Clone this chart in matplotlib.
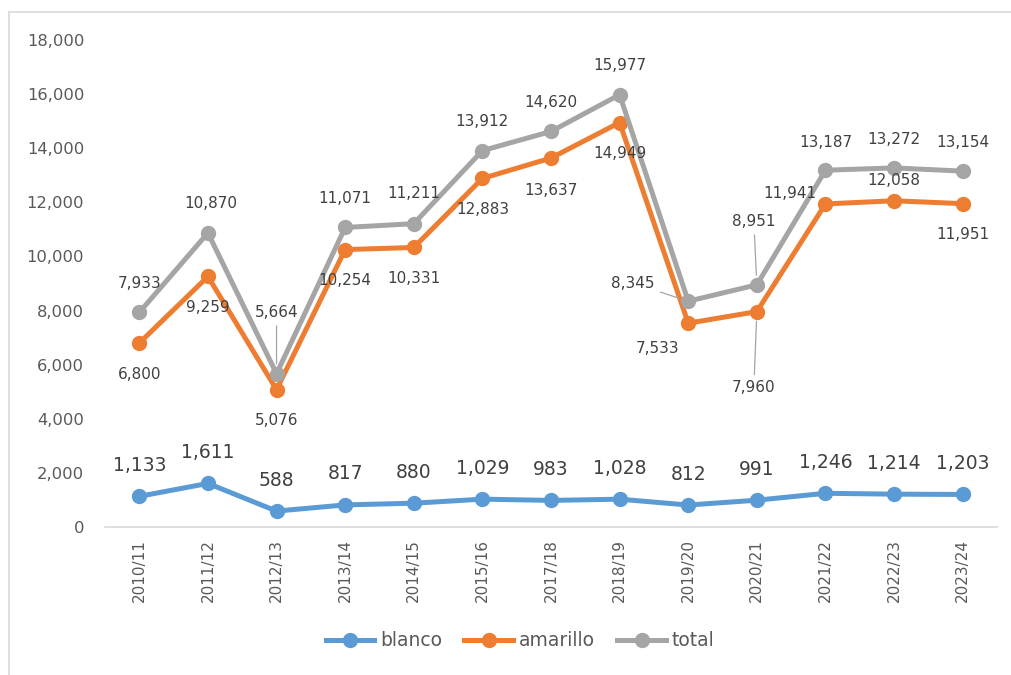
import matplotlib.pyplot as plt
from matplotlib.lines import Line2D

# data
seasons = ['2010/11', '2011/12', '2012/13', '2013/14', '2014/15', '2015/16', '2017/18',
           '2018/19', '2019/20', '2020/21', '2021/22', '2022/23', '2023/24']
blanco = [1133, 1611, 588, 817, 880, 1029, 983, 1028, 812, 991, 1246, 1214, 1203]
amarillo = [6800, 9259, 5076, 10254, 10331, 12883, 13637, 14949, 7533, 7960, 11941, 12058, 11951]
total = [7933, 10870, 5664, 11071, 11211, 13912, 14620, 15977, 8345, 8951, 13187, 13272, 13154]

c_blanco = '#5B9BD5'
c_amar = '#ED7D31'
c_total = '#A5A5A5'
txt = '#404040'

# label offsets in pixels (dx, dy up), leader line flag
off_total = [(0, 29), (3, 29), (0, 61), (0, 29), (0, 30), (0, 29), (0, 29),
             (0, 29), (-55, 18), (-3, 63), (0, 28), (0, 28), (0, 29)]
lead_total = [False, False, True, False, False, False, False,
              False, True, True, False, False, False]
off_amar = [(0, -31), (0, -31), (0, -31), (0, -31), (0, -31), (0, -31), (0, -32),
            (0, -31), (-31, -25), (-3, -76), (-36, 10), (0, 20), (0, -31)]
lead_amar = [False] * 9 + [True] + [False] * 3

fig = plt.figure(figsize=(10.12, 6.75), dpi=100)
# chart border (only left and top edges are inside the picture)
bx, by = 8.5 / 1012, 1 - 11.5 / 675
fig.add_artist(Line2D([bx, bx], [0, by], transform=fig.transFigure, color='#D9D9D9', lw=1.2))
fig.add_artist(Line2D([bx, 1], [by, by], transform=fig.transFigure, color='#D9D9D9', lw=1.2))
ax = fig.add_axes([105 / 1012, 1 - 527 / 675, 892 / 1012, 487 / 675])

x = range(len(seasons))
lw, ms = 3.6, 10
ax.plot(x, blanco, '-o', color=c_blanco, lw=lw, ms=ms, label='blanco', zorder=3)
ax.plot(x, amarillo, '-o', color=c_amar, lw=lw, ms=ms, label='amarillo', zorder=3)
ax.plot(x, total, '-o', color=c_total, lw=lw, ms=ms, label='total', zorder=3)

px = 0.72


def labels(vals, offs, leads, size):
    for i, v in enumerate(vals):
        dx, dy = offs[i]
        ap = None
        if leads[i]:
            ap = dict(arrowstyle='-', color=c_total, lw=0.9, shrinkA=2, shrinkB=7)
        ax.annotate(f'{v:,}', (i, v), xytext=(dx * px, dy * px), textcoords='offset points',
                    ha='center', va='center', fontsize=size, color=txt, arrowprops=ap, zorder=4)


labels(total, off_total, lead_total, 11)
labels(amarillo, off_amar, lead_amar, 11)
for i, v in enumerate(blanco):
    ax.annotate(f'{v:,}', (i, v), xytext=(0, 31 * px), textcoords='offset points',
                ha='center', va='center', fontsize=13.5, color=txt, zorder=4)

ax.set_xlim(-0.5, len(seasons) - 0.5)
ax.set_ylim(0, 18000)
ax.set_yticks(range(0, 18001, 2000))
ax.set_yticklabels([f'{t:,}' for t in range(0, 18001, 2000)], fontsize=11.8, color='#595959')
ax.set_xticks(list(x))
ax.set_xticklabels(seasons, rotation=90, fontsize=11, color='#595959')
ax.tick_params(axis='both', length=0)
ax.tick_params(axis='y', pad=15)
ax.tick_params(axis='x', pad=9)
for s in ['top', 'right', 'left']:
    ax.spines[s].set_visible(False)
ax.spines['bottom'].set_color('#D9D9D9')
ax.spines['bottom'].set_linewidth(1.2)

fig.legend(loc='center', bbox_to_anchor=(520 / 1012, 1 - 641 / 675), ncol=3, frameon=False,
           fontsize=13.5, handlelength=2.6, columnspacing=1.2, handletextpad=0.3,
           labelcolor='#595959')

fig.savefig('out.png', dpi=100)
